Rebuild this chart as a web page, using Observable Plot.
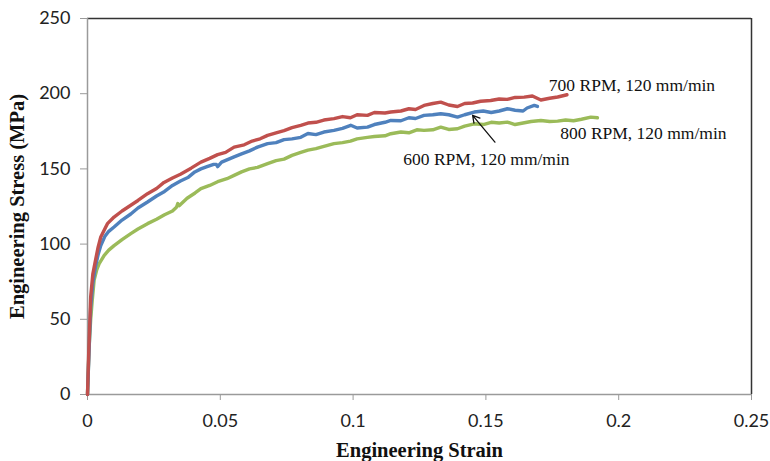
<!DOCTYPE html>
<html>
<head>
<meta charset="utf-8">
<script src="https://cdn.jsdelivr.net/npm/d3@7"></script>
<script src="https://cdn.jsdelivr.net/npm/@observablehq/plot@0.6"></script>
<style>
  html, body { margin: 0; padding: 0; background: #fff; }
  #chart svg { display: block; }
  #chart [aria-label="y-axis tick"], #chart [aria-label="x-axis tick"] { stroke: #9a9a9a; }
</style>
</head>
<body>
<div id="chart"></div>
<script>
// ---- Data ----
const seriesNames = ["800 RPM, 120 mm/min", "600 RPM, 120 mm/min", "700 RPM, 120 mm/min"];
const seriesColors = ["#9bbb59", "#4f81bd", "#c0504d"];

const strain700 = [0,0.0005,0.0012,0.002,0.0031,0.004,0.005,0.0065,0.0075,0.01,0.013,0.0163,0.019,0.0226,0.026,0.0288,0.032,0.035,0.039,0.0427,0.046,0.049,0.052,0.0552,0.059,0.062,0.065,0.0678,0.071,0.074,0.077,0.0803,0.083,0.086,0.089,0.0928,0.096,0.099,0.1015,0.1054,0.108,0.112,0.1142,0.118,0.121,0.1235,0.1267,0.13,0.133,0.136,0.1393,0.142,0.145,0.148,0.1518,0.155,0.158,0.161,0.1644,0.1675,0.1707,0.174,0.177,0.1794,0.1805];
const stress700 = [0,30,65,80,90,98,104.7,110,113.6,118,122,125.8,129,133.5,137,141,144,146.5,150.5,154.5,157,159.5,161,164.5,166,168.5,170,172.3,174,175.5,177.5,179,180.5,181,182.5,183.4,184.8,184,186,185.6,187.5,187.2,187.8,188.5,190,189.5,192.2,193.5,194.4,192.5,191.5,193.5,193.8,195,195.5,196.5,196.2,197.5,197.7,198.5,195.8,197,197.8,198.8,199.3];

const strain600 = [0,0.0005,0.0012,0.002,0.003,0.004,0.005,0.0065,0.008,0.01,0.013,0.0163,0.019,0.0226,0.026,0.029,0.032,0.035,0.038,0.0404,0.0427,0.045,0.0475,0.0485,0.049,0.0505,0.0552,0.058,0.061,0.064,0.0678,0.071,0.074,0.077,0.0803,0.083,0.086,0.089,0.0928,0.096,0.0991,0.1015,0.1054,0.108,0.112,0.1142,0.118,0.121,0.1235,0.1267,0.13,0.133,0.136,0.1393,0.142,0.1456,0.149,0.152,0.155,0.1581,0.161,0.164,0.1655,0.1682,0.1694];
const stress600 = [0,25,58,74,85,93,99,105,108.5,111.4,116,120,124,128,132,135,139,142,144.5,148,150,151.5,153,153,151.5,154.5,158,160,162,164.5,166.8,167.5,169.5,170,171,173.5,172.8,174.5,175.6,177,179,177.2,177.8,179.5,181,182.2,182,184,183.5,185.6,186,186.7,186,184.4,186,187.8,188.5,187.5,188.5,190,189,188.5,190.5,192.2,191.5];

const strain800 = [0,0.0006,0.0012,0.0018,0.0025,0.0035,0.0044,0.0063,0.008,0.01,0.013,0.0163,0.019,0.0226,0.026,0.029,0.032,0.0335,0.034,0.0345,0.0375,0.0405,0.0427,0.046,0.049,0.0525,0.0552,0.058,0.061,0.064,0.0678,0.071,0.074,0.077,0.0803,0.083,0.086,0.089,0.0928,0.096,0.099,0.1015,0.1054,0.108,0.112,0.1142,0.118,0.121,0.124,0.1267,0.13,0.133,0.136,0.1393,0.142,0.1456,0.149,0.152,0.155,0.1581,0.161,0.164,0.167,0.1707,0.174,0.177,0.18,0.183,0.186,0.1895,0.192];
const stress800 = [0,31.6,50,63,76,83,87,92.5,96,99,103,107,110,113.6,116.5,119.5,122,124.5,127,125.5,130.5,134,136.9,139,141.5,143.5,145.7,148,150,151,153.5,155.5,156.5,159,161,162.5,163.5,165,166.8,167.5,168.5,170,171,171.5,172,173.4,174.5,174,176,175.6,176,177.8,176.2,176.7,178.5,180,179.5,181,180.5,181.1,179.5,180.5,181.5,182.2,181.5,181.8,182.5,182,183,184.4,184];

const xTicks = [0, 0.05, 0.1, 0.15, 0.2, 0.25];
const xTickLabels = ["0", "0.05", "0.1", "0.15", "0.2", "0.25"];
const yTicks = [0, 50, 100, 150, 200, 250];

const xTitle = "Engineering Strain";
const yTitle = "Engineering Stress (MPa)";

// label positions (data coords)
const labelStrain = [0.178, 0.1189, 0.1737];
const labelStress = [173.8, 156, 205.2];

// arrow (from 600 RPM label to blue curve)
const arrowFrom = {x: 0.1534, y: 167.8};
const arrowTo = {x: 0.145, y: 185.6};

// ---- Build table ----
const strains = [strain800, strain600, strain700];
const stresses = [stress800, stress600, stress700];
const rows = [];
seriesNames.forEach((name, i) => {
  strains[i].forEach((s, j) => rows.push({series: name, strain: s, stress: stresses[i][j]}));
});
const labels = seriesNames.map((name, i) => ({name, x: labelStrain[i], y: labelStress[i]}));

const serif = "Liberation Serif, Times New Roman, serif";

const chart = Plot.plot({
  width: 770,
  height: 461,
  marginTop: 18,
  marginBottom: 67,
  marginLeft: 87,
  marginRight: 19,
  style: {background: "#fff", color: "#222", fontFamily: "Lato, sans-serif"},
  x: {domain: [0, 0.25], ticks: xTicks, label: null},
  y: {domain: [0, 250], ticks: yTicks, label: null},
  color: {domain: seriesNames, range: seriesColors},
  marks: [
    Plot.ruleY([250], {stroke: "#333", strokeWidth: 1.5}),
    Plot.ruleX([0.25], {stroke: "#333", strokeWidth: 1.5}),
    Plot.ruleY([0], {stroke: "#9a9a9a", strokeWidth: 1.5}),
    Plot.ruleX([0], {stroke: "#9a9a9a", strokeWidth: 1.5}),
    Plot.axisX({ticks: xTicks, tickFormat: (d) => xTickLabels[xTicks.indexOf(d)], tickSize: 6, tickPadding: 14, fontSize: 18, label: null, fill: "#222"}),
    Plot.axisY({ticks: yTicks, tickSize: 7, tickPadding: 10, fontSize: 18, label: null, fill: "#222"}),
    Plot.line(rows, {x: "strain", y: "stress", z: "series", stroke: "series", strokeWidth: 3.4, strokeLinejoin: "round", strokeLinecap: "round"}),
    Plot.arrow([{}], {x1: () => arrowFrom.x, y1: () => arrowFrom.y, x2: () => arrowTo.x, y2: () => arrowTo.y, stroke: "#111", strokeWidth: 1.3, headLength: 9}),
    Plot.text(labels, {x: "x", y: "y", text: "name", textAnchor: "start", fontFamily: serif, fontSize: 17.5, fill: "#111"}),
    Plot.text([xTitle], {frameAnchor: "bottom", dy: 56, textAnchor: "middle", lineAnchor: "middle", text: d => d, fontFamily: serif, fontWeight: "bold", fontSize: 20.5, fill: "#111"}),
    Plot.text([yTitle], {frameAnchor: "left", dx: -70.5, rotate: -90, textAnchor: "middle", lineAnchor: "middle", text: d => d, fontFamily: serif, fontWeight: "bold", fontSize: 20.5, fill: "#111"})
  ]
});
document.getElementById("chart").appendChild(chart);
</script>
</body>
</html>
